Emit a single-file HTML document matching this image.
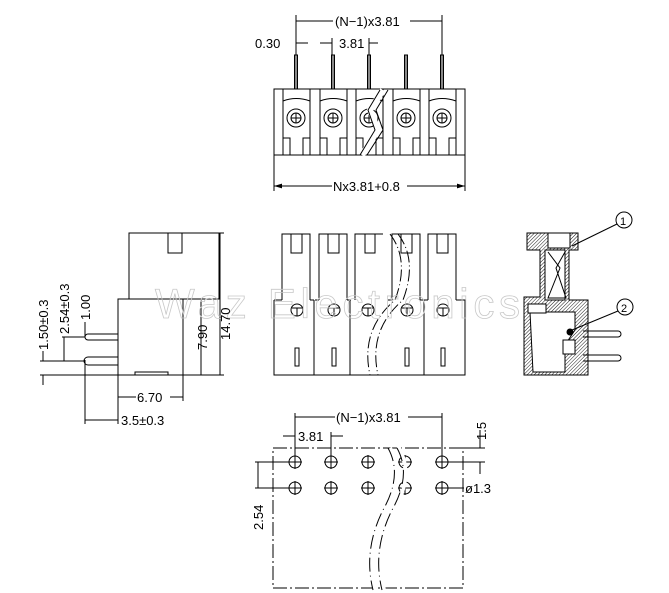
<!DOCTYPE html>
<html><head><meta charset="utf-8"><style>
html,body{margin:0;padding:0;background:#fff}
svg{display:block}
text{font-family:"Liberation Sans",sans-serif;font-size:13px;fill:#000}
</style></head><body>
<svg width="669" height="593" viewBox="0 0 669 593" xmlns="http://www.w3.org/2000/svg">
<defs>
<pattern id="h" width="2.5" height="2.5" patternUnits="userSpaceOnUse" patternTransform="rotate(45)">
<line x1="0" y1="0" x2="0" y2="2.5" stroke="#000" stroke-width="0.9"/></pattern>
<marker id="a" viewBox="0 0 10 6" refX="10" refY="3" markerWidth="8" markerHeight="5" orient="auto-start-reverse"><path d="M0,0L10,3L0,6z" fill="#000"/></marker>
</defs>
<g stroke="#000" stroke-width="1" fill="none">
<!-- TOP VIEW -->
<line x1="296" y1="15" x2="296" y2="55"/><line x1="442" y1="15" x2="442" y2="55"/>
<line x1="296" y1="21" x2="333" y2="21"/><line x1="410" y1="21" x2="442" y2="21"/>
<line x1="332" y1="38" x2="332" y2="55"/><line x1="369" y1="38" x2="369" y2="55"/>
<line x1="296" y1="43" x2="308" y2="43"/><line x1="320" y1="43" x2="332" y2="43"/><line x1="369" y1="43" x2="378" y2="43"/>
<rect x="274" y="89" width="191" height="66"/>
<g id="tm">
<rect x="294.5" y="55" width="3" height="34" fill="#888"/>
<path d="M283 89V155M310 89V155M283 101Q296 96 310 101"/>
<circle cx="296" cy="118" r="9"/><circle cx="296" cy="118" r="5"/>
<path d="M291 118h10M296 113v10"/>
<path d="M283 138h7v17M310 138h-7v17"/>
</g>
<use href="#tm" x="37"/><use href="#tm" x="73"/><use href="#tm" x="110"/><use href="#tm" x="146"/>
<path d="M383 90L370 110L378 130L362 155" stroke="#fff" stroke-width="6"/>
<path d="M380 90L368 110L375 130L360 155M388 90L376 110L383 130L367 155"/>
<line x1="274" y1="155" x2="274" y2="191"/><line x1="465" y1="155" x2="465" y2="191"/>
<line x1="274" y1="186" x2="332" y2="186" marker-start="url(#a)"/><line x1="407" y1="186" x2="465" y2="186" marker-end="url(#a)"/>

<!-- SIDE VIEW -->
<rect x="129" y="233" width="90" height="66"/>
<rect x="168" y="233" width="14" height="20"/>
<path d="M118 299H183V375H118Z"/>
<path d="M135 375V372H168V375"/>
<path d="M118 334H88a3 3 0 0 0 0 6H118M118 357H88a4 4 0 0 0 0 8H118"/>
<line x1="183" y1="233" x2="224" y2="233"/>
<line x1="183" y1="375" x2="224" y2="375"/>
<line x1="220" y1="233" x2="220" y2="375"/>
<line x1="183" y1="299" x2="205" y2="299"/>
<line x1="201" y1="299" x2="201" y2="375"/>
<line x1="40" y1="375" x2="118" y2="375"/>
<line x1="40" y1="361" x2="85" y2="361"/>
<line x1="62" y1="337" x2="85" y2="337"/>
<line x1="85" y1="360" x2="85" y2="424"/>
<line x1="118" y1="375" x2="118" y2="424"/>
<line x1="183" y1="375" x2="183" y2="401"/>
<line x1="118" y1="397" x2="136" y2="397"/><line x1="170" y1="397" x2="183" y2="397"/>
<line x1="85" y1="420" x2="118" y2="420"/>
<line x1="43" y1="375" x2="43" y2="385"/><line x1="43" y1="351" x2="43" y2="361"/>
<line x1="64" y1="337" x2="64" y2="361"/>
<line x1="85" y1="322" x2="85" y2="337"/>

<!-- FRONT VIEW -->
<g id="fm">
<path d="M282 300V234H310V300"/>
<rect x="291" y="234" width="11" height="19"/>
<path d="M282 300H278M310 300H314"/>
<circle cx="297" cy="310" r="6"/><path d="M292 308h10M297 308v8"/>
<rect x="295" y="348" width="4" height="18"/>
</g>
<use href="#fm" x="37"/><use href="#fm" x="110"/><use href="#fm" x="146"/>
<path d="M355 300V234H383M365 234v19h10v-19"/>
<circle cx="368" cy="310" r="6"/><path d="M363 308h10M368 308v8"/>
<path d="M274 300V375H465V300H460M274 300H278M314 300V375M350 300V375M424 300V375"/>
<path d="M390 234Q410 260 395 300Q360 330 370 375M398 234Q418 260 403 300Q368 330 378 375" stroke-dasharray="12 3 1 3"/>

<!-- SECTION VIEW -->
<path d="M527 233H578V250H569V300H588V375H524V297H540V250H527Z" fill="url(#h)"/>
<path d="M548 233H570V248H548Z" fill="#fff"/>
<path d="M545 250H565V300H545Z" fill="#fff"/>
<path d="M548 252L560 268L548 298H566L556 268L565 252" />
<path d="M530 312H575V330L565 345V372H533Z" fill="#fff"/>
<rect x="528" y="304" width="18" height="9" fill="#fff"/>
<rect x="563" y="340" width="12" height="14" fill="#fff"/>
<path d="M583 331H618a3 3 0 0 1 0 6H583M583 355H618a3 3 0 0 1 0 6H583"/>
<circle cx="570" cy="332" r="3" fill="#000"/>
<circle cx="624" cy="220" r="8"/><line x1="617" y1="224" x2="572" y2="246"/>
<circle cx="625" cy="307" r="8"/><line x1="618" y1="311" x2="572" y2="330"/>

<!-- BOTTOM VIEW -->
<path d="M273 448H463V588H273Z" stroke-dasharray="14 3 2 3"/>
<g id="bh"><circle cx="295" cy="462" r="6"/><circle cx="295" cy="488" r="6"/><path d="M288 462h14M295 455v14M288 488h14M295 481v14"/></g>
<use href="#bh" x="36"/><use href="#bh" x="73"/><use href="#bh" x="110"/><use href="#bh" x="147"/>
<path d="M390 448Q405 475 385 510Q365 550 375 590M399 448Q414 475 394 510Q374 550 384 590" stroke="#fff" stroke-width="4"/>
<path d="M388 448Q403 475 383 510Q363 550 373 590M397 448Q412 475 392 510Q372 550 382 590" stroke-dasharray="14 4 1 4"/>
<line x1="295" y1="413" x2="295" y2="455"/><line x1="442" y1="413" x2="442" y2="455"/>
<line x1="295" y1="417" x2="335" y2="417"/><line x1="408" y1="417" x2="442" y2="417"/>
<line x1="331" y1="432" x2="331" y2="455"/>
<line x1="283" y1="436" x2="295" y2="436"/><line x1="331" y1="436" x2="343" y2="436"/>
<line x1="449" y1="448" x2="485" y2="448"/><line x1="449" y1="462" x2="485" y2="462"/>
<line x1="480" y1="430" x2="480" y2="448"/><line x1="480" y1="462" x2="480" y2="474"/>
<line x1="255" y1="462" x2="288" y2="462"/><line x1="255" y1="488" x2="288" y2="488"/>
<line x1="258" y1="462" x2="258" y2="488"/>
<line x1="449" y1="488" x2="464" y2="488"/>
</g>
<!-- watermark -->
<text x="155" y="318" textLength="365" lengthAdjust="spacing" style="font-size:42px;fill:none;stroke:#c8c8c8;stroke-width:0.8">Waz Electronics</text>
<!-- labels -->
<text x="335" y="26">(N−1)x3.81</text>
<text x="255" y="48">0.30</text>
<text x="339" y="48">3.81</text>
<text x="333" y="191">Nx3.81+0.8</text>
<text x="137" y="402">6.70</text>
<text x="121" y="425">3.5±0.3</text>
<text transform="translate(230,340) rotate(-90)">14.70</text>
<text transform="translate(207,350) rotate(-90)">7.90</text>
<text transform="translate(48,350) rotate(-90)">1.50±0.3</text>
<text transform="translate(69,334) rotate(-90)">2.54±0.3</text>
<text transform="translate(90,320) rotate(-90)">1.00</text>
<text x="620" y="225" style="font-size:11px">1</text>
<text x="621" y="312" style="font-size:11px">2</text>
<text x="336" y="422">(N−1)x3.81</text>
<text x="298" y="441">3.81</text>
<text transform="translate(486,440) rotate(-90)">1.5</text>
<text x="465" y="493">ø1.3</text>
<text transform="translate(263,530) rotate(-90)">2.54</text>
</svg>
</body></html>
